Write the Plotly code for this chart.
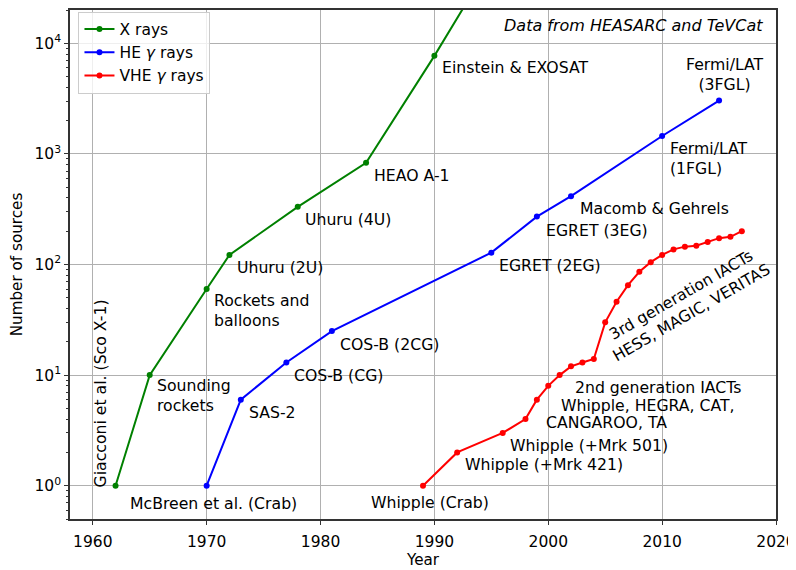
import numpy as np
import plotly.graph_objects as go

# source counts per year
xray_years = [1962, 1965, 1970, 1972, 1978, 1984, 1990, 1997]
xray_counts = [1, 10, 60, 122, 332, 830, 7700, 120000]

he_years = [1970, 1973, 1977, 1981, 1995, 1999, 2002, 2010, 2015]
he_counts = [1, 6, 13, 25, 128, 271, 415, 1451, 3033]

vhe_years = [1989, 1992, 1996, 1998, 1999, 2000, 2001, 2002, 2003, 2004, 2005, 2006,
             2007, 2008, 2009, 2010, 2011, 2012, 2013, 2014, 2015, 2016, 2017]
vhe_counts = [1, 2, 3, 4, 6, 8, 10, 12, 13, 14, 30, 46,
              65, 86, 105, 122, 137, 145, 148, 160, 173, 178, 200]

# labels: (text, year, count, anchor)
labels = [
    ('McBreen et al. (Crab)', 1963.1, 0.69, 'left'),
    ('Sounding<br>rockets', 1965.5, 6.5, 'left'),
    ('Rockets and<br>balloons', 1970.5, 38.5, 'left'),
    ('Uhuru (2U)', 1972.5, 93, 'left'),
    ('Uhuru (4U)', 1978.5, 257, 'left'),
    ('HEAO A-1', 1984.5, 637, 'left'),
    ('Einstein &amp; EXOSAT', 1990.5, 5990, 'left'),
    ('Fermi/LAT<br>(3FGL)', 2015.5, 5240, 'center'),
    ('Fermi/LAT<br>(1FGL)', 2010.55, 916, 'left'),
    ('Macomb &amp; Gehrels', 2002.6, 320, 'left'),
    ('EGRET (3EG)', 1999.6, 205, 'left'),
    ('EGRET (2EG)', 1995.5, 97, 'left'),
    ('COS-B (2CG)', 1981.5, 19, 'left'),
    ('COS-B (CG)', 1977.5, 9.9, 'left'),
    ('SAS-2', 1973.5, 4.6, 'left'),
    ('Whipple (Crab)', 1984.3, 0.7, 'left'),
    ('Whipple (+Mrk 421)', 1992.55, 1.56, 'left'),
    ('Whipple (+Mrk 501)', 1996.5, 2.32, 'left'),
    ('2nd generation IACTs', 2002.2, 7.8, 'left'),
    ('Whipple, HEGRA, CAT,', 2000.9, 5.35, 'left'),
    ('CANGAROO, TA', 1999.6, 3.75, 'left'),
]

x_ticks = [1960, 1970, 1980, 1990, 2000, 2010, 2020]
y_ticks = [1, 10, 100, 1000, 10000]
y_ticktext = ['10<sup>0</sup>', '10<sup>1</sup>', '10<sup>2</sup>', '10<sup>3</sup>', '10<sup>4</sup>']

FONT = 'DejaVu Sans'
GRID = '#b0b0b0'
SPINE = '#333333'
LABEL_SIZE = 15.7

fig = go.Figure()
for yrs, cnt, name, col in [(xray_years, xray_counts, 'X rays', 'green'),
                            (he_years, he_counts, 'HE <i>γ</i> rays', 'blue'),
                            (vhe_years, vhe_counts, 'VHE <i>γ</i> rays', 'red')]:
    fig.add_trace(go.Scatter(x=yrs, y=cnt, name=name, mode='lines+markers',
                             line=dict(color=col, width=2), marker=dict(color=col, size=6)))

for text, x, y, anchor in labels:
    fig.add_annotation(x=x, y=np.log10(y), xref='x', yref='y', text=text, showarrow=False,
                       xanchor=anchor, yanchor='middle', align=anchor,
                       font=dict(size=LABEL_SIZE, color='black', family=FONT))

fig.add_annotation(x=1960.7, y=np.log10(0.92), xref='x', yref='y', text='Giacconi et al. (Sco X-1)',
                   showarrow=False, textangle=-90, xanchor='center', yanchor='bottom',
                   font=dict(size=LABEL_SIZE, color='black', family=FONT))
fig.add_annotation(x=2012.1, y=np.log10(44), xref='x', yref='y',
                   text='3rd generation IACTs<br>HESS, MAGIC, VERITAS',
                   showarrow=False, textangle=-30, xanchor='center', yanchor='middle', align='center',
                   font=dict(size=LABEL_SIZE, color='black', family=FONT))
fig.add_annotation(x=0.984, y=0.969, xref='paper', yref='paper', text='<i>Data from HEASARC and TeVCat</i>',
                   showarrow=False, xanchor='right', yanchor='middle',
                   font=dict(size=16, color='black', family=FONT))

minor_vals = [v * 10 ** k for k in range(-1, 5) for v in range(2, 10) if 0.5 <= v * 10 ** k <= 20000]

# the page body adds an 8px offset, margins compensate for it
fig.update_layout(
    width=796, height=570,
    margin=dict(l=62, r=28, t=0, b=59),
    plot_bgcolor='white',
    paper_bgcolor='white',
    font=dict(family=FONT, size=15.5, color='black'),
    legend=dict(x=0.012, y=0.997, xanchor='left', yanchor='top',
                bgcolor='rgba(255,255,255,0.8)', bordercolor='#cccccc', borderwidth=1,
                font=dict(size=15.5), itemwidth=30),
    showlegend=True,
)
fig.update_xaxes(
    range=[1958, 2020],
    tickvals=x_ticks,
    showgrid=True, gridcolor=GRID, gridwidth=1,
    showline=True, linecolor=SPINE, linewidth=1.5, mirror=True,
    ticks='outside', ticklen=4, tickcolor=SPINE, ticklabelstandoff=4,
    zeroline=False,
    title=dict(text='Year', standoff=4, font=dict(size=15.2)),
)
fig.update_yaxes(
    type='log',
    range=[np.log10(0.5), np.log10(20000)],
    tickvals=y_ticks, ticktext=y_ticktext,
    showgrid=True, gridcolor=GRID, gridwidth=1,
    showline=True, linecolor=SPINE, linewidth=1.5, mirror=True,
    ticks='outside', ticklen=4, tickcolor=SPINE,
    minor=dict(tickvals=minor_vals, ticks='outside', ticklen=2, tickcolor=SPINE, showgrid=False),
    zeroline=False,
    title=dict(text='Number of sources', standoff=9, font=dict(size=15.2)),
)

fig.write_html('out.html')
